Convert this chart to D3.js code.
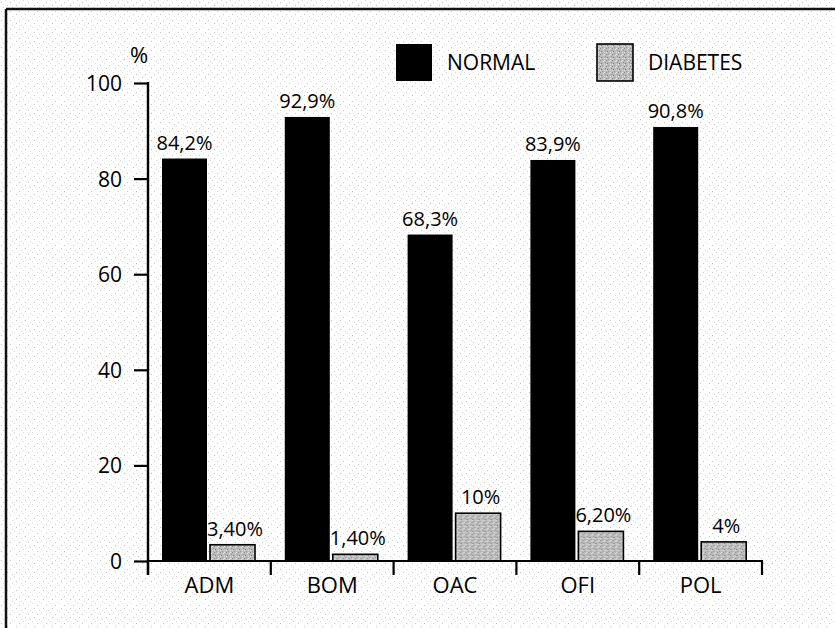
<!DOCTYPE html>
<html><head><meta charset="utf-8">
<script src="https://cdn.jsdelivr.net/npm/d3@7"></script>
<style>html,body{margin:0;padding:0;background:#fff;}svg{display:block;}</style>
</head><body>
<svg id="chart" width="835" height="628"></svg>
<script>
const categories = ["ADM", "BOM", "OAC", "OFI", "POL"];
const seriesNames = ["NORMAL", "DIABETES"];
const normalValues = [84.2, 92.9, 68.3, 83.9, 90.8];
const diabetesValues = [3.4, 1.4, 10, 6.2, 4];
const normalLabels = ["84,2%", "92,9%", "68,3%", "83,9%", "90,8%"];
const diabetesLabels = ["3,40%", "1,40%", "10%", "6,20%", "4%"];
const yTicks = [0, 20, 40, 60, 80, 100];

const svg = d3.select("#chart");
const font = "'Open Sans', 'DejaVu Sans', sans-serif";
const defs = svg.append("defs");

// background speckle pattern
const bg = defs.append("pattern").attr("id", "bgdots").attr("patternUnits", "userSpaceOnUse")
  .attr("width", 9).attr("height", 9);
bg.append("rect").attr("width", 9).attr("height", 9).attr("fill", "#ffffff");
[[1,2,"#c8c8c8"],[5,0,"#dadada"],[7,5,"#c2c2c2"],[3,7,"#d6d6d6"]].forEach(d => {
  bg.append("rect").attr("x", d[0]).attr("y", d[1]).attr("width", 1).attr("height", 1).attr("fill", d[2]);
});

// grey stipple pattern
const gp = defs.append("pattern").attr("id", "greyfill").attr("patternUnits", "userSpaceOnUse")
  .attr("width", 6).attr("height", 6);
gp.append("rect").attr("width", 6).attr("height", 6).attr("fill", "#bcbcbc");
[[0,0,"#8a8a8a"],[3,1,"#e2e2e2"],[1,3,"#7a7a7a"],[4,4,"#dcdcdc"],[2,5,"#999"],[5,2,"#909090"],[4,0,"#e6e6e6"],[0,4,"#e0e0e0"]].forEach(d => {
  gp.append("rect").attr("x", d[0]).attr("y", d[1]).attr("width", 1).attr("height", 1).attr("fill", d[2]);
});

svg.append("rect").attr("x", 0).attr("y", 0).attr("width", 835).attr("height", 628).attr("fill", "url(#bgdots)");

// frame (top and left)
svg.append("line").attr("x1", 6).attr("x2", 835).attr("y1", 9).attr("y2", 9).attr("stroke", "#111").attr("stroke-width", 2.5);
svg.append("line").attr("x1", 6).attr("x2", 6).attr("y1", 9).attr("y2", 628).attr("stroke", "#111").attr("stroke-width", 2.5);

const x0 = d3.scaleBand().domain(categories).range([148, 762]).paddingInner(0).paddingOuter(0);
const x1 = d3.scaleBand().domain(seriesNames).range([14, 107]).paddingInner(0.0625).paddingOuter(0);
const y = d3.scaleLinear().domain([0, 100]).range([561, 83]);

const rows = categories.map((c, i) => ({
  cat: c,
  bars: [
    {s: "NORMAL", v: normalValues[i], label: normalLabels[i]},
    {s: "DIABETES", v: diabetesValues[i], label: diabetesLabels[i]}
  ]
}));

const g = svg.selectAll("g.cat").data(rows).enter().append("g")
  .attr("transform", d => `translate(${x0(d.cat)},0)`);

g.selectAll("rect").data(d => d.bars).enter().append("rect")
  .attr("x", d => x1(d.s))
  .attr("y", d => y(d.v))
  .attr("width", x1.bandwidth())
  .attr("height", d => y(0) - y(d.v))
  .attr("fill", d => d.s === "NORMAL" ? "#000" : "url(#greyfill)")
  .attr("stroke", d => d.s === "NORMAL" ? "none" : "#000")
  .attr("stroke-width", 1.6);

g.selectAll("text").data(d => d.bars).enter().append("text")
  .attr("x", d => x1(d.s) + x1.bandwidth() / 2 + (d.s === "DIABETES" ? 2.5 : 0))
  .attr("y", d => y(d.v) - 9)
  .attr("text-anchor", "middle")
  .attr("font-family", font).attr("font-size", 20).attr("fill", "#000")
  .text(d => d.label);

// Y axis
const yAxis = d3.axisLeft(y).tickValues(yTicks).tickSize(14).tickPadding(12).tickFormat(d3.format("d"));
const ya = svg.append("g").attr("transform", "translate(148,0)").call(yAxis);
ya.select(".domain").remove();
ya.selectAll(".tick line").attr("stroke", "#000").attr("stroke-width", 2.2);
ya.selectAll(".tick text").attr("font-family", font).attr("font-size", 21).attr("fill", "#000").attr("dy", "0.36em");
svg.append("line").attr("x1", 148).attr("x2", 148).attr("y1", y(100) - 1).attr("y2", 575)
  .attr("stroke", "#000").attr("stroke-width", 2.4);

// X axis
svg.append("line").attr("x1", 147).attr("x2", 763).attr("y1", y(0)).attr("y2", y(0))
  .attr("stroke", "#000").attr("stroke-width", 2.2);
const xa = svg.append("g").attr("transform", `translate(0,${y(0)})`)
  .call(d3.axisBottom(x0).tickSize(0).tickPadding(16));
xa.select(".domain").remove();
xa.selectAll(".tick text").attr("font-family", font).attr("font-size", 22).attr("fill", "#000").attr("dy", "0.71em");
const bounds = categories.map(c => x0(c)).concat([x0(categories[categories.length - 1]) + x0.bandwidth()]);
svg.selectAll("line.xt").data(bounds).enter().append("line").attr("class", "xt")
  .attr("x1", d => d).attr("x2", d => d).attr("y1", y(0)).attr("y2", 575)
  .attr("stroke", "#000").attr("stroke-width", 2.2);

// % unit
svg.append("text").attr("x", 139).attr("y", 63).attr("text-anchor", "middle")
  .attr("font-family", font).attr("font-size", 22).attr("fill", "#000").text("%");

// Legend
const legend = [
  {name: seriesNames[0], x: 396, tx: 447, fill: "#000", stroke: "none"},
  {name: seriesNames[1], x: 597, tx: 648, fill: "url(#greyfill)", stroke: "#000"}
];
const lg = svg.selectAll("g.leg").data(legend).enter().append("g");
lg.append("rect").attr("x", d => d.x).attr("y", 44).attr("width", 36).attr("height", 37)
  .attr("fill", d => d.fill).attr("stroke", d => d.stroke).attr("stroke-width", 1.6);
lg.append("text").attr("x", d => d.tx).attr("y", 70)
  .attr("font-family", font).attr("font-size", 21).attr("fill", "#000").text(d => d.name);
</script>
</body></html>
